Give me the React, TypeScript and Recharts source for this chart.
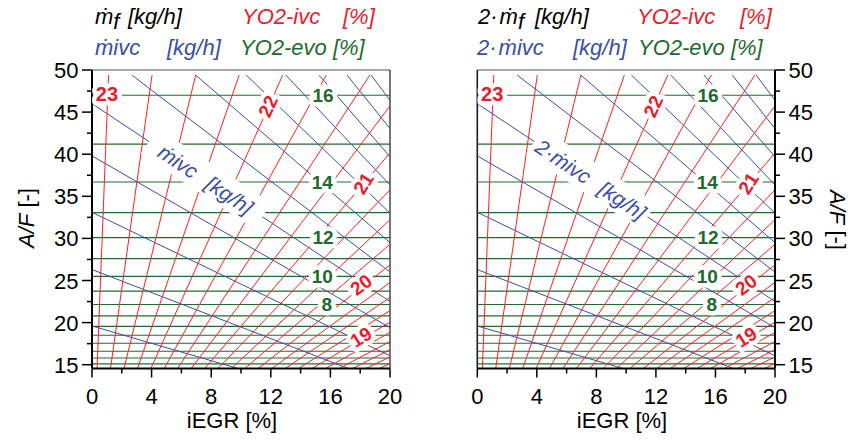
import React from "react";
import { ComposedChart, Line, Scatter, XAxis, YAxis, ReferenceLine } from "recharts";

const FONT = "'Liberation Sans', Arial, Helvetica, sans-serif";
const RED = "#ff1f1f";
const RED_TEXT = "#e91c2b";
const BLUE = "#3a4ea8";
const GREEN = "#216a2f";

const X_TICKS = [0, 2, 4, 6, 8, 10, 12, 14, 16, 18, 20];
const X_TICK_LABELS = [0, 4, 8, 12, 16, 20];
const Y_TICKS = [15, 17.5, 20, 22.5, 25, 27.5, 30, 32.5, 35, 37.5, 40, 42.5, 45, 47.5, 50];
const Y_TICK_LABELS = [15, 20, 25, 30, 35, 40, 45, 50];
const AF_MIN = 14.55;

// YO2-evo contours (green): A/F of each line, levels 16 .. 1
const EVO_AF = [47.0, 41.2, 36.7, 33.05, 30.1, 27.6, 25.5, 23.75, 22.15, 20.8, 19.55, 18.5, 17.55, 16.6, 15.8, 15.1];
const EVO_LABELS = ["16", "14", "12", "10", "8"];
const EVO_LABEL_X = [15.5, 15.45, 15.5, 15.45, 15.75];
const EVO_LABEL_AF = [47.0, 36.7, 30.1, 25.5, 22.15];

// YO2-ivc contours (red): start on the bottom edge, end on the top or right edge
const IVC_X0 = [0.34, 1.24, 2.15, 3.05, 3.95, 4.85, 5.75, 6.66, 7.56, 8.46, 9.36, 10.26, 11.16, 12.07, 12.97, 13.87, 14.77, 15.67, 16.58, 17.48, 18.38, 19.28];
const IVC_X1 = [1.11, 4.03, 6.96, 9.88, 12.8, 15.72, 18.65, 20, 20, 20, 20, 20, 20, 20, 20, 20, 20, 20, 20, 20, 20, 20];
const IVC_AF1 = [49.4, 49.4, 49.4, 49.4, 49.4, 49.4, 49.4, 45.73, 40.15, 35.76, 32.22, 29.3, 26.86, 24.77, 22.98, 21.42, 20.05, 18.84, 17.76, 16.79, 15.92, 15.13];
const IVC_LABELS = ["23", "22", "21", "20", "19"];
const IVC_LABEL_X = [1.0, 11.8, 18.2, 18.05, 18.05];
const IVC_LABEL_AF = [47.2, 45.7, 36.55, 24.5, 18.3];
const IVC_LABEL_ROT = [0, -65, -58, -38, -32];

// mivc contours (blue)
const MIVC_X0 = [0, 0, 0, 0, 0, 2.67, 6.95, 10.35, 13.0, 15.23, 17.12, 18.73];
const MIVC_AF0 = [19.6, 26.3, 33.1, 39.8, 46.0, 49.4, 49.4, 49.4, 49.4, 49.4, 49.4, 49.4];
const MIVC_X1 = [9.8, 17.2, 20, 20, 20, 20, 20, 20, 20, 20, 20, 20];
const MIVC_AF1 = [14.55, 14.55, 16.05, 19.4, 22.5, 26.0, 29.5, 33.0, 36.35, 39.7, 43.05, 46.4];
const MIVC_LABEL_X = 7.6;
const MIVC_LABEL_AF = 36.95;

const evoLines = EVO_AF.map((af) => [{ x: 0, y: af }, { x: 20, y: af }]);
const ivcLines = IVC_X0.map((x0, i) => [{ x: x0, y: AF_MIN }, { x: IVC_X1[i], y: IVC_AF1[i] }]);
const mivcLines = MIVC_X0.map((x0, i) => [{ x: x0, y: MIVC_AF0[i] }, { x: MIVC_X1[i], y: MIVC_AF1[i] }]);

const contourLabels = [
  ...EVO_LABELS.map((t, i) => ({ x: EVO_LABEL_X[i], y: EVO_LABEL_AF[i], text: t, color: GREEN, rot: 0, size: 19 })),
  ...IVC_LABELS.map((t, i) => ({ x: IVC_LABEL_X[i], y: IVC_LABEL_AF[i], text: t, color: RED_TEXT, rot: IVC_LABEL_ROT[i], size: i === 0 ? 20 : 19 })),
];

function XTick(props: any) {
  const { x, y, payload } = props;
  const major = X_TICK_LABELS.includes(payload.value);
  return (
    <g>
      <line x1={x} x2={x} y1={y} y2={y + (major ? 9 : 5)} stroke="#000" strokeWidth={1.5} />
      {major && (
        <text x={x} y={y + 35.5} textAnchor="middle" fontSize={22} fontFamily={FONT} fill="#000">
          {payload.value}
        </text>
      )}
    </g>
  );
}

function makeYTick(side: "left" | "right") {
  const s = side === "left" ? -1 : 1;
  return (props: any) => {
    const { x, y, payload } = props;
    const major = Y_TICK_LABELS.includes(payload.value);
    return (
      <g>
        <line x1={x} x2={x + s * (major ? 10 : 5)} y1={y} y2={y} stroke="#000" strokeWidth={1.5} />
        {major && (
          <text x={x + s * 13.5} y={y + 8} textAnchor={side === "left" ? "end" : "start"} fontSize={22} fontFamily={FONT} fill="#000">
            {payload.value}
          </text>
        )}
      </g>
    );
  };
}

function ContourLabel(props: any) {
  const { cx, cy, payload } = props;
  return (
    <g transform={`translate(${cx},${cy}) rotate(${payload.rot})`}>
      <text
        x={0}
        y={0}
        dy="0.36em"
        textAnchor="middle"
        fontSize={payload.size}
        fontWeight="bold"
        fontFamily={FONT}
        fill={payload.color}
        stroke="#fff"
        strokeWidth={9}
        strokeLinejoin="round"
        paintOrder="stroke"
      >
        {payload.text}
      </text>
    </g>
  );
}

function MivcLabel(props: any) {
  const { cx, cy, payload } = props;
  return (
    <g transform={`translate(${cx},${cy}) rotate(33.5)`}>
      <rect x={-68} y={-17} width={136} height={31} fill="#fff" />
      <text x={0} y={7} textAnchor="middle" fontSize={21} fontStyle="italic" fontFamily={FONT} fill={BLUE}>
        {payload.text}
        <tspan dx={14}>[kg/h]</tspan>
      </text>
    </g>
  );
}

function Panel({ side, left, width, margin, mivcText }: any) {
  return (
    <div style={{ position: "absolute", left, top: 0 }}>
      <ComposedChart width={width} height={441} margin={margin}>
        <XAxis
          type="number"
          dataKey="x"
          domain={[0, 20]}
          ticks={X_TICKS}
          interval={0}
          allowDataOverflow
          height={40}
          tickSize={0}
          tickMargin={0}
          tickLine={false}
          axisLine={{ stroke: "#000", strokeWidth: 2 }}
          tick={(p: any) => <XTick {...p} />}
        />
        <YAxis
          type="number"
          dataKey="y"
          orientation={side}
          domain={[AF_MIN, 50]}
          ticks={Y_TICKS}
          interval={0}
          allowDataOverflow
          width={60}
          tickSize={0}
          tickMargin={0}
          tickLine={false}
          axisLine={{ stroke: "#000", strokeWidth: 2 }}
          tick={makeYTick(side)}
        />
        <ReferenceLine y={50} stroke="#8a8a8a" strokeWidth={1.5} />
        <ReferenceLine x={side === "left" ? 20 : 0} stroke="#1a1a1a" strokeWidth={side === "left" ? 1.2 : 1.6} />
        {evoLines.map((d, i) => (
          <Line key={`evo${i}`} data={d} dataKey="y" stroke={GREEN} strokeWidth={1.2} dot={false} activeDot={false} isAnimationActive={false} legendType="none" />
        ))}
        {mivcLines.map((d, i) => (
          <Line key={`mivc${i}`} data={d} dataKey="y" stroke={BLUE} strokeWidth={1} dot={false} activeDot={false} isAnimationActive={false} legendType="none" />
        ))}
        {ivcLines.map((d, i) => (
          <Line key={`ivc${i}`} data={d} dataKey="y" stroke={RED} strokeWidth={1} dot={false} activeDot={false} isAnimationActive={false} legendType="none" />
        ))}
        <Scatter
          data={[{ x: MIVC_LABEL_X, y: MIVC_LABEL_AF, text: mivcText }]}
          shape={(p: any) => <MivcLabel {...p} />}
          isAnimationActive={false}
          legendType="none"
        />
        <Scatter data={contourLabels} shape={(p: any) => <ContourLabel {...p} />} isAnimationActive={false} legendType="none" />
      </ComposedChart>
    </div>
  );
}

const T = { fontFamily: FONT, fontSize: 22 };

export default function App() {
  return (
    <div style={{ position: "absolute", left: 0, top: 0, width: 851, height: 441, background: "#fff", overflow: "hidden" }}>
      <Panel side="left" left={0} width={420} margin={{ top: 70, right: 30, bottom: 32.5, left: 32 }} mivcText="ṁivc" />
      <Panel side="right" left={430} width={421} margin={{ top: 70, right: 16, bottom: 32.5, left: 47.3 }} mivcText="2·ṁivc" />
      <svg width={851} height={441} style={{ position: "absolute", left: 0, top: 0, pointerEvents: "none" }}>
        <g {...T} fontStyle="italic">
          <text x={95} y={24} fill="#000">
            ṁ<tspan dy={5}>f</tspan>
            <tspan x={128} dy={-5}>[kg/h]</tspan>
          </text>
          <text x={242} y={24} fill={RED_TEXT}>YO2-ivc</text>
          <text x={343} y={24} fill={RED_TEXT}>[%]</text>
          <text x={95} y={55} fill={BLUE}>ṁivc</text>
          <text x={167} y={55} fill={BLUE}>[kg/h]</text>
          <text x={240} y={55} fill={GREEN}>YO2-evo [%]</text>

          <text x={478} y={24} fill="#000">
            2·<tspan dx={2}>ṁ</tspan>
            <tspan dy={5}>f</tspan>
            <tspan x={535} dy={-5}>[kg/h]</tspan>
          </text>
          <text x={637} y={24} fill={RED_TEXT}>YO2-ivc</text>
          <text x={740} y={24} fill={RED_TEXT}>[%]</text>
          <text x={477} y={55} fill={BLUE}>
            2·<tspan dx={2}>ṁivc</tspan>
          </text>
          <text x={573} y={55} fill={BLUE}>[kg/h]</text>
          <text x={638} y={55} fill={GREEN}>YO2-evo [%]</text>
        </g>
        <g {...T} fill="#000">
          <text x={232} y={428} textAnchor="middle">iEGR [%]</text>
          <text x={622} y={428} textAnchor="middle">iEGR [%]</text>
          <text transform="translate(26,218) rotate(-90)" textAnchor="middle" dy={8}>
            <tspan fontStyle="italic">A/F</tspan> [-]
          </text>
          <text transform="translate(838,220) rotate(90)" textAnchor="middle" dy={8}>
            <tspan fontStyle="italic">A/F</tspan> [-]
          </text>
        </g>
      </svg>
    </div>
  );
}
